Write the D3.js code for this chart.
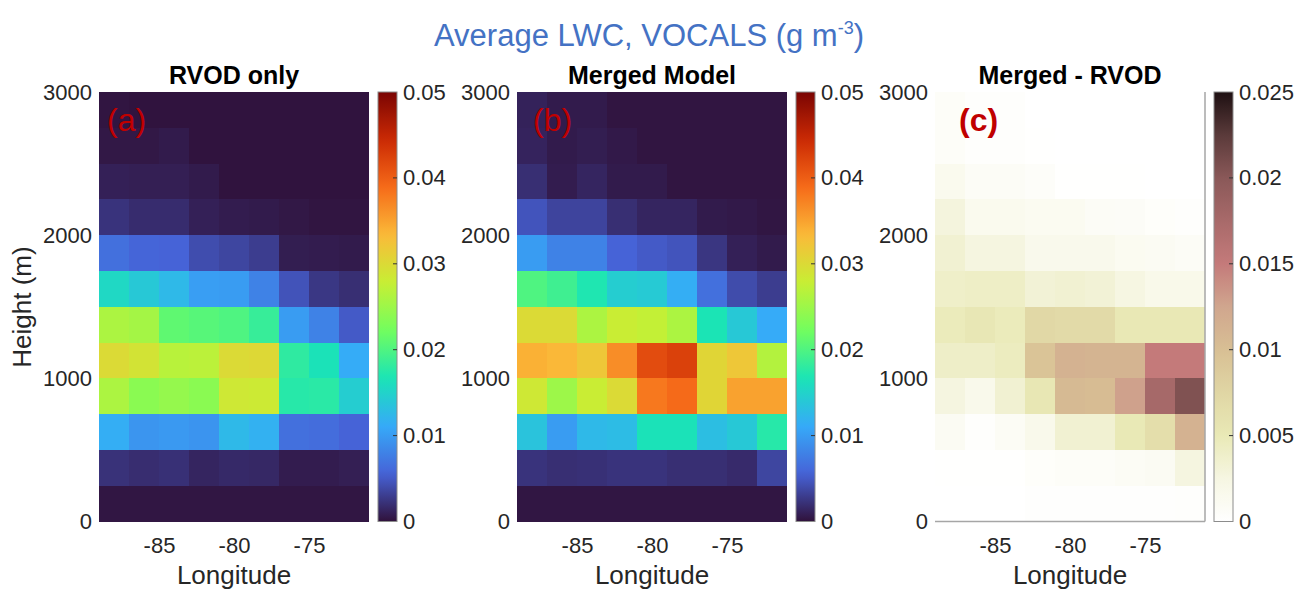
<!DOCTYPE html>
<html>
<head>
<meta charset="utf-8">
<script src="https://cdn.jsdelivr.net/npm/d3@7"></script>
<style>
body { margin: 0; background: #fff; }
text { font-family: "Liberation Sans", Arial, Helvetica, sans-serif; }
</style>
</head>
<body>
<svg id="chart" width="1303" height="593"></svg>
<script>
// bins: longitude lower edges (2 deg wide), height lower edges (250 m tall), top row first
var lonBins = [-89, -87, -85, -83, -81, -79, -77, -75, -73];
var heightBins = [2750, 2500, 2250, 2000, 1750, 1500, 1250, 1000, 750, 500, 250, 0];

var lonTicks = [-85, -80, -75];
var heightTicks = [0, 1000, 2000, 3000];
var cbarTicksAB = [0, 0.01, 0.02, 0.03, 0.04, 0.05];
var cbarLabelsAB = ["0", "0.01", "0.02", "0.03", "0.04", "0.05"];
var cbarTicksC = [0, 0.005, 0.01, 0.015, 0.02, 0.025];
var cbarLabelsC = ["0", "0.005", "0.01", "0.015", "0.02", "0.025"];

// average LWC (g m-3), RVOD only
var rvod = [
  [0.0002, 0.0001, 0.0001, 0.0001, 0.0001, 0.0001, 0.0001, 0.0001, 0.0001],
  [0.0004, 0.0004, 0.0006, 0.0001, 0.0001, 0.0001, 0.0001, 0.0001, 0.0001],
  [0.0010, 0.0009, 0.0009, 0.0006, 0.0001, 0.0001, 0.0001, 0.0001, 0.0001],
  [0.0023, 0.0018, 0.0018, 0.0010, 0.0007, 0.0006, 0.0004, 0.0002, 0.0002],
  [0.0066, 0.0058, 0.0056, 0.0041, 0.0036, 0.0030, 0.0008, 0.0007, 0.0006],
  [0.0155, 0.0140, 0.0125, 0.0102, 0.0100, 0.0080, 0.0045, 0.0026, 0.0020],
  [0.0260, 0.0255, 0.0210, 0.0205, 0.0200, 0.0185, 0.0100, 0.0080, 0.0050],
  [0.0300, 0.0290, 0.0268, 0.0270, 0.0300, 0.0302, 0.0180, 0.0165, 0.0113],
  [0.0260, 0.0238, 0.0245, 0.0238, 0.0285, 0.0283, 0.0175, 0.0177, 0.0145],
  [0.0115, 0.0095, 0.0098, 0.0094, 0.0125, 0.0118, 0.0066, 0.0064, 0.0056],
  [0.0022, 0.0019, 0.0021, 0.0013, 0.0016, 0.0015, 0.0007, 0.0007, 0.0009],
  [0.0003, 0.0003, 0.0003, 0.0003, 0.0003, 0.0003, 0.0003, 0.0003, 0.0003]
];

// merged model
var merged = [
  [0.0011, 0.0006, 0.0006, 0.0002, 0.0002, 0.0002, 0.0002, 0.0002, 0.0002],
  [0.0012, 0.0006, 0.0008, 0.0005, 0.0002, 0.0002, 0.0002, 0.0002, 0.0002],
  [0.0020, 0.0007, 0.0013, 0.0006, 0.0006, 0.0002, 0.0002, 0.0002, 0.0002],
  [0.0046, 0.0035, 0.0035, 0.0020, 0.0013, 0.0013, 0.0006, 0.0005, 0.0003],
  [0.0100, 0.0080, 0.0080, 0.0056, 0.0050, 0.0046, 0.0025, 0.0010, 0.0006],
  [0.0200, 0.0190, 0.0170, 0.0145, 0.0142, 0.0115, 0.0066, 0.0040, 0.0030],
  [0.0300, 0.0300, 0.0260, 0.0280, 0.0275, 0.0260, 0.0167, 0.0140, 0.0112],
  [0.0340, 0.0335, 0.0320, 0.0365, 0.0415, 0.0425, 0.0305, 0.0320, 0.0265],
  [0.0285, 0.0250, 0.0280, 0.0300, 0.0380, 0.0390, 0.0305, 0.0350, 0.0350],
  [0.0135, 0.0100, 0.0125, 0.0128, 0.0165, 0.0165, 0.0130, 0.0140, 0.0175],
  [0.0023, 0.0020, 0.0021, 0.0023, 0.0023, 0.0020, 0.0020, 0.0017, 0.0036],
  [0.0003, 0.0003, 0.0003, 0.0003, 0.0003, 0.0003, 0.0003, 0.0003, 0.0003]
];

// merged - RVOD
var diff = [
  [0.0006, 0.0003, 0.0003, 0.0000, 0.0000, 0.0000, 0.0000, 0.0000, 0.0000],
  [0.0006, 0.0003, 0.0003, 0.0001, 0.0000, 0.0000, 0.0000, 0.0000, 0.0000],
  [0.0015, 0.0008, 0.0008, 0.0005, 0.0001, 0.0001, 0.0001, 0.0000, 0.0000],
  [0.0028, 0.0015, 0.0015, 0.0012, 0.0012, 0.0008, 0.0007, 0.0004, 0.0003],
  [0.0034, 0.0026, 0.0026, 0.0016, 0.0016, 0.0016, 0.0012, 0.0010, 0.0008],
  [0.0039, 0.0041, 0.0041, 0.0032, 0.0034, 0.0032, 0.0025, 0.0018, 0.0018],
  [0.0047, 0.0052, 0.0047, 0.0072, 0.0070, 0.0070, 0.0051, 0.0051, 0.0051],
  [0.0040, 0.0040, 0.0045, 0.0095, 0.0113, 0.0111, 0.0111, 0.0150, 0.0150],
  [0.0026, 0.0017, 0.0034, 0.0053, 0.0105, 0.0103, 0.0128, 0.0177, 0.0205],
  [0.0010, 0.0003, 0.0009, 0.0017, 0.0034, 0.0034, 0.0050, 0.0065, 0.0113],
  [0.0001, 0.0001, 0.0001, 0.0004, 0.0006, 0.0006, 0.0009, 0.0010, 0.0026],
  [0.0000, 0.0000, 0.0000, 0.0002, 0.0002, 0.0002, 0.0002, 0.0002, 0.0003]
];

var turbo = d3.piecewise(d3.interpolateRgb, ["#30123b", "#4662d7", "#36aaf9", "#1ae4b6", "#72fe5e",
  "#c7ef34", "#faba39", "#f66b19", "#cb2a04", "#7a0403"]);
var pinkish = d3.piecewise(d3.interpolateRgb, ["#ffffff", "#f6f6e2", "#e9e9b6", "#e0d6a4", "#d8bf94",
  "#d0a68e", "#c47a7a", "#a86a6a", "#8a5858", "#5a3a3a", "#1e1012"]);

var panels = [
  {title: "RVOD only", tag: "(a)", data: rvod, cmap: turbo, max: 0.05, ticks: cbarTicksAB, labels: cbarLabelsAB,
   left: 99, tagDx: 8, bold: false},
  {title: "Merged Model", tag: "(b)", data: merged, cmap: turbo, max: 0.05, ticks: cbarTicksAB, labels: cbarLabelsAB,
   left: 517, tagDx: 16, bold: false},
  {title: "Merged - RVOD", tag: "(c)", data: diff, cmap: pinkish, max: 0.025, ticks: cbarTicksC, labels: cbarLabelsC,
   left: 935, tagDx: 24, bold: true}
];

var svg = d3.select("#chart");
svg.append("rect").attr("width", 1303).attr("height", 593).attr("fill", "#fff");
var defs = svg.append("defs");

var plotTop = 92, plotW = 270, plotH = 429.5, cbW = 19;

var x = d3.scaleLinear().domain([-89, -71]).range([0, plotW]);
var y = d3.scaleLinear().domain([0, 3000]).range([plotH, 0]);

// main title
var mt = svg.append("text")
    .attr("x", 649).attr("y", 46)
    .attr("text-anchor", "middle")
    .attr("font-size", 31)
    .attr("fill", "#4472c4");
mt.append("tspan").text("Average LWC, VOCALS (g m");
mt.append("tspan").attr("font-size", 18).attr("dy", -12).text("-3");
mt.append("tspan").attr("dy", 12).text(")");

panels.forEach(function(p, pi) {
    var g = svg.append("g").attr("transform", "translate(" + p.left + "," + plotTop + ")");
    var color = d3.scaleSequential(p.cmap).domain([0, p.max]).clamp(true);

    var cells = [];
    p.data.forEach(function(row, ri) {
        row.forEach(function(v, ci) {
            cells.push({lon: lonBins[ci], h: heightBins[ri], v: v});
        });
    });

    g.selectAll("rect.cell")
      .data(cells)
      .enter().append("rect")
      .attr("class", "cell")
      .attr("x", function(d) { return x(d.lon); })
      .attr("y", function(d) { return y(d.h + 250); })
      .attr("width", function(d) { return x(d.lon + 2) - x(d.lon); })
      .attr("height", function(d) { return y(d.h) - y(d.h + 250); })
      .attr("shape-rendering", "crispEdges")
      .attr("fill", function(d) { return color(d.v); });

    if (pi == 2) {
        g.append("line").attr("x1", plotW).attr("x2", plotW).attr("y1", 0).attr("y2", plotH)
          .attr("stroke", "#a6a6a6").attr("stroke-width", 1.5);
        g.append("line").attr("x1", 0).attr("x2", plotW).attr("y1", plotH).attr("y2", plotH)
          .attr("stroke", "#a6a6a6").attr("stroke-width", 1.5);
    }

    // axes
    var xa = g.append("g").attr("transform", "translate(0," + plotH + ")")
        .call(d3.axisBottom(x).tickValues(lonTicks).tickSize(0).tickPadding(16)
          .tickFormat(function(d) { return String(d); }));
    var ya = g.append("g")
        .call(d3.axisLeft(y).tickValues(heightTicks).tickSize(0).tickPadding(7)
          .tickFormat(function(d) { return String(d); }));
    [xa, ya].forEach(function(a) {
        a.select(".domain").remove();
        a.selectAll("text").attr("font-size", 22).attr("fill", "#262626")
          .style("font-family", "'Liberation Sans', Arial, sans-serif");
    });

    g.append("text")
      .attr("x", plotW / 2).attr("y", 584 - plotTop)
      .attr("text-anchor", "middle")
      .attr("font-size", 26).attr("fill", "#262626")
      .text("Longitude");

    g.append("text")
      .attr("x", plotW / 2).attr("y", 84 - plotTop)
      .attr("text-anchor", "middle")
      .attr("font-size", 25).attr("font-weight", "bold").attr("fill", "#000")
      .text(p.title);

    g.append("text")
      .attr("x", p.tagDx).attr("y", 131 - plotTop)
      .attr("font-size", 32)
      .attr("font-weight", p.bold ? "bold" : "normal")
      .attr("fill", "#c00000")
      .text(p.tag);

    // colorbar
    var cbx = plotW + 9;
    var gid = "grad" + pi;
    var grad = defs.append("linearGradient").attr("id", gid)
        .attr("x1", 0).attr("x2", 0).attr("y1", 1).attr("y2", 0);
    d3.range(0, 1.0001, 0.02).forEach(function(t) {
        grad.append("stop").attr("offset", t).attr("stop-color", p.cmap(t));
    });
    var cb = g.append("g").attr("transform", "translate(" + cbx + ",0)");
    cb.append("rect").attr("width", cbW).attr("height", plotH)
      .attr("fill", "url(#" + gid + ")")
      .attr("stroke", "#8c8c8c").attr("stroke-width", 1);
    var cs = d3.scaleLinear().domain([0, p.max]).range([plotH, 0]);
    cb.selectAll("line.ct")
      .data(p.ticks.slice(1, -1))
      .enter().append("line")
      .attr("x1", cbW - 4).attr("x2", cbW)
      .attr("y1", function(d) { return cs(d); })
      .attr("y2", function(d) { return cs(d); })
      .attr("stroke", "#333").attr("stroke-width", 1);
    var ca = cb.append("g").attr("transform", "translate(" + cbW + ",0)")
        .call(d3.axisRight(cs).tickValues(p.ticks).tickSize(0).tickPadding(6)
          .tickFormat(function(d, i) { return p.labels[i]; }));
    ca.select(".domain").remove();
    ca.selectAll("text").attr("font-size", 22).attr("fill", "#262626")
      .style("font-family", "'Liberation Sans', Arial, sans-serif");
});

svg.append("text")
  .attr("transform", "translate(31,307) rotate(-90)")
  .attr("text-anchor", "middle")
  .attr("font-size", 26).attr("fill", "#262626")
  .text("Height (m)");
</script>
</body>
</html>
